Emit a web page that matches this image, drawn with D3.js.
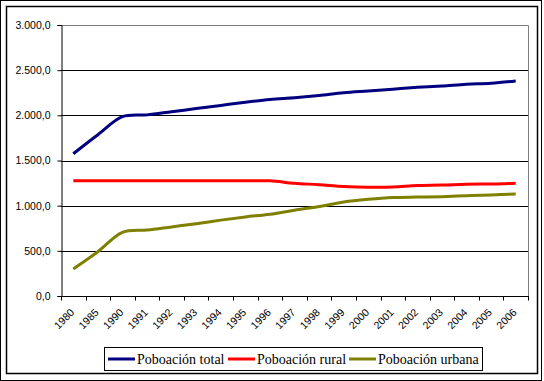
<!DOCTYPE html>
<html>
<head>
<meta charset="utf-8">
<script src="https://cdn.jsdelivr.net/npm/d3@7"></script>
<style>
  html, body { margin: 0; padding: 0; background: #fff; }
  svg { display: block; }
</style>
</head>
<body>
<div id="chart"></div>
<script>
// Categories (x axis) and series values
const years = ['1980', '1985', '1990', '1991', '1992', '1993', '1994', '1995', '1996',
  '1997', '1998', '1999', '2000', '2001', '2002', '2003', '2004', '2005', '2006'];

const poboacion_total = [1575, 1785, 1985, 2005, 2040, 2075, 2110, 2145, 2175,
  2195, 2220, 2250, 2270, 2290, 2310, 2325, 2345, 2355, 2380];

const poboacion_rural = [1275, 1275, 1275, 1275, 1275, 1275, 1275, 1275, 1275,
  1248, 1232, 1212, 1203, 1208, 1222, 1228, 1238, 1240, 1248];

const poboacion_urbana = [300, 490, 705, 730, 765, 800, 840, 875, 905,
  950, 990, 1040, 1070, 1090, 1095, 1100, 1110, 1118, 1130];

const y_ticks = [0, 500, 1000, 1500, 2000, 2500, 3000];

const series_names = ['Poboación total', 'Poboación rural', 'Poboación urbana'];
const series_colors = ['#000080', '#ff0000', '#808000'];

const width = 544;
const height = 381;
const plot = { left: 61, right: 528, top: 25, bottom: 296 };

// Galician style numbers: 3.000,0
const locale = d3.formatLocale({ decimal: ',', thousands: '.', grouping: [3], currency: ['', ''] });
const fmt = locale.format(',.1f');

const svg = d3.select('#chart').append('svg')
  .attr('width', width)
  .attr('height', height);

// Outer frame (double line)
svg.append('rect')
  .attr('x', 0.5).attr('y', 0.5)
  .attr('width', 541).attr('height', 380)
  .attr('fill', '#fff')
  .attr('stroke', '#000')
  .attr('stroke-width', 1);

svg.append('rect')
  .attr('x', 6.5).attr('y', 6.5)
  .attr('width', 531).attr('height', 367)
  .attr('fill', 'none')
  .attr('stroke', '#000')
  .attr('stroke-width', 1.5);

const x = d3.scaleBand()
  .domain(years)
  .range([plot.left, plot.right]);

const y = d3.scaleLinear()
  .domain([0, 3000])
  .range([plot.bottom, plot.top]);

// Plot area border (gray, top and right)
svg.append('path')
  .attr('d', `M${plot.left},${plot.top + 0.5}H${plot.right + 0.5}V${plot.bottom}`)
  .attr('fill', 'none')
  .attr('stroke', '#808080')
  .attr('stroke-width', 1);

// Gridlines
svg.append('g')
  .selectAll('line')
  .data(y_ticks.filter(d => d > 0 && d < 3000))
  .join('line')
  .attr('x1', plot.left)
  .attr('x2', plot.right)
  .attr('y1', d => Math.round(y(d)) + 0.5)
  .attr('y2', d => Math.round(y(d)) + 0.5)
  .attr('stroke', '#000')
  .attr('stroke-width', 1);

// Y axis
const y_axis = svg.append('g')
  .attr('transform', `translate(${plot.left + 0.5},0)`)
  .call(d3.axisLeft(y).tickValues(y_ticks).tickFormat(fmt).tickSize(4).tickPadding(7));

y_axis.select('.domain').attr('stroke', '#000');
y_axis.selectAll('.tick line').attr('stroke', '#000');
y_axis.selectAll('.tick text')
  .attr('font-family', 'Liberation Sans, Arial, sans-serif')
  .attr('font-size', '10.5px')
  .attr('fill', '#000');

// X axis: ticks between categories, labels rotated
const x_axis = svg.append('g')
  .attr('transform', `translate(0,${plot.bottom + 0.5})`);

x_axis.append('line')
  .attr('x1', plot.left)
  .attr('x2', plot.right + 1)
  .attr('stroke', '#000');

const boundaries = years.map(d => x(d)).concat([plot.right]);
x_axis.selectAll('line.tick')
  .data(boundaries)
  .join('line')
  .attr('class', 'tick')
  .attr('x1', d => Math.round(d) + 0.5)
  .attr('x2', d => Math.round(d) + 0.5)
  .attr('y1', 0)
  .attr('y2', 4)
  .attr('stroke', '#000');

x_axis.selectAll('text')
  .data(years)
  .join('text')
  .attr('transform', d => `translate(${x(d) + x.bandwidth() / 2 - 1},${14}) rotate(-45)`)
  .attr('text-anchor', 'end')
  .attr('dy', '0.35em')
  .attr('font-family', 'Liberation Sans, Arial, sans-serif')
  .attr('font-size', '10.5px')
  .attr('fill', '#000')
  .text(d => d);

// Lines
const all_series = [poboacion_total, poboacion_rural, poboacion_urbana];
const line = d3.line()
  .x((d, i) => x(years[i]) + x.bandwidth() / 2)
  .y(d => y(d))
  .curve(d3.curveCatmullRom.alpha(0.5));

svg.append('g')
  .selectAll('path')
  .data(all_series)
  .join('path')
  .attr('d', d => line(d))
  .attr('fill', 'none')
  .attr('stroke', (d, i) => series_colors[i])
  .attr('stroke-width', 3);

// Legend
const legend = svg.append('g');
legend.append('rect')
  .attr('x', 104.5).attr('y', 347.5)
  .attr('width', 378).attr('height', 23)
  .attr('fill', '#fff')
  .attr('stroke', '#000')
  .attr('stroke-width', 1);

const legend_x = [108, 228, 349];
const items = legend.selectAll('g.item')
  .data(series_names)
  .join('g')
  .attr('class', 'item')
  .attr('transform', (d, i) => `translate(${legend_x[i]},359)`);

items.append('line')
  .attr('x1', 0)
  .attr('x2', 27)
  .attr('stroke', (d, i) => series_colors[i])
  .attr('stroke-width', 3);

items.append('text')
  .attr('x', 29)
  .attr('dy', '0.35em')
  .attr('font-family', 'Liberation Serif, Times New Roman, serif')
  .attr('font-size', '14px')
  .attr('fill', '#000')
  .text(d => d);
</script>
</body>
</html>
